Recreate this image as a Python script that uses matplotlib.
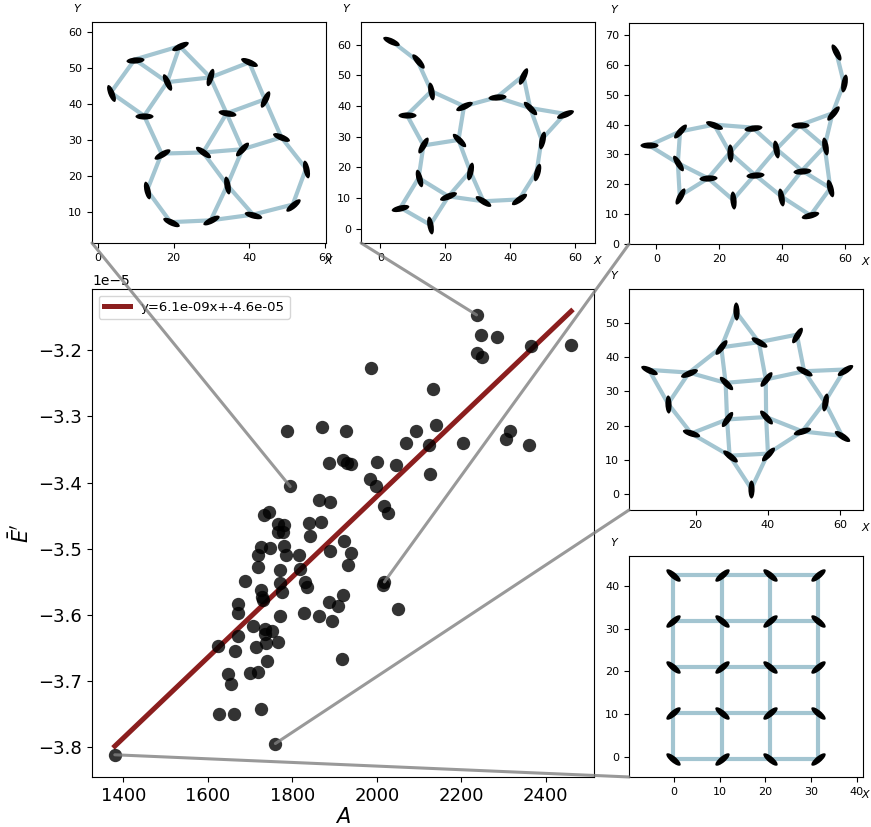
import numpy as np
import matplotlib
matplotlib.use('Agg')
import matplotlib.pyplot as plt
from matplotlib.markers import MarkerStyle
from matplotlib.patches import ConnectionPatch
from matplotlib.ticker import MultipleLocator
from matplotlib.transforms import Affine2D

# sample area A and mean energy E' (in units of 1e-5)
area = [2236, 2246, 2285, 2237, 2248, 2364, 2460, 1986, 2132, 1871,
        1928, 1787, 2092, 2139, 2068, 2124, 2203, 2316, 2305, 2359,
        1888, 1921, 1930, 1940, 2000, 2045, 2127, 1983, 1997, 1795,
        1863, 1889, 1732, 1746, 2018, 2026, 1766, 1780, 1766, 1777,
        1839, 1868, 1842, 1923, 1938, 1890, 1931, 1725, 1747, 1718,
        1781, 1785, 1817, 1718, 1772, 1819, 1689, 1831, 1834, 1771,
        1776, 1725, 1728, 1730, 2018, 2014, 1920, 1886, 1909, 1671,
        1672, 1827, 1863, 1895, 2050, 1772, 1706, 1736, 1753, 1735,
        1671, 1766, 1713, 1737, 1625, 1665, 1739, 1918, 1648, 1655,
        1699, 1718, 1626, 1663, 1727, 1760, 1380]
energy = [-3.147, -3.178, -3.181, -3.204, -3.210, -3.194, -3.192, -3.227, -3.259, -3.316,
          -3.322, -3.323, -3.322, -3.313, -3.340, -3.343, -3.340, -3.322, -3.334, -3.344,
          -3.370, -3.366, -3.371, -3.372, -3.369, -3.374, -3.387, -3.395, -3.406, -3.406,
          -3.427, -3.429, -3.449, -3.445, -3.435, -3.446, -3.462, -3.464, -3.474, -3.474,
          -3.461, -3.459, -3.480, -3.489, -3.506, -3.503, -3.525, -3.497, -3.499, -3.509,
          -3.496, -3.510, -3.509, -3.527, -3.532, -3.531, -3.548, -3.550, -3.558, -3.552,
          -3.565, -3.562, -3.573, -3.578, -3.550, -3.555, -3.570, -3.580, -3.586, -3.583,
          -3.597, -3.597, -3.601, -3.609, -3.591, -3.602, -3.616, -3.621, -3.624, -3.629,
          -3.632, -3.641, -3.649, -3.642, -3.647, -3.654, -3.669, -3.667, -3.689, -3.704,
          -3.688, -3.686, -3.749, -3.749, -3.742, -3.794, -3.811]

# linear fit of energy against area
slope = 6.08e-9
intercept = -4.637e-5

# samples whose structure is drawn in the insets
linked = [29, 0, 64, 95, 96]

# structure graphs: node x, node y, ellipse angle (deg), edges
g1_x = [9.7, 21.6, 3.4, 18.3, 29.7, 40.0, 44.1, 12.2, 34.0, 16.8,
        27.8, 38.2, 48.5, 55.0, 13.0, 34.2, 19.2, 29.8, 41.0, 51.5]
g1_y = [52.4, 56.1, 43.2, 46.1, 47.4, 51.6, 41.3, 36.7, 37.4, 26.2,
        26.5, 27.4, 30.7, 22.0, 16.0, 17.4, 7.1, 7.6, 9.2, 12.0]
g1_ang = [5, 25, 112, 115, 73, -23, 64, 0, -10, 30,
          -35, 47, -22, 102, 103, 100, -25, 27, -15, 40]
g1_edges = [(0, 1), (0, 2), (0, 3), (1, 3), (1, 4), (3, 4), (2, 7), (3, 7), (4, 5), (4, 8),
            (5, 6), (6, 8), (6, 12), (7, 9), (8, 10), (8, 11), (9, 10), (10, 11), (11, 12),
            (12, 13), (9, 14), (10, 15), (15, 18), (11, 15), (15, 17), (14, 16), (16, 17),
            (17, 18), (18, 19), (19, 13)]

g2_x = [3.3, 11.5, 15.7, 8.2, 25.8, 35.9, 44.1, 46.2, 56.9, 49.7,
        13.3, 24.1, 27.7, 11.8, 21.0, 48.2, 31.8, 42.8, 6.2, 15.4]
g2_y = [61.3, 54.6, 44.8, 37.0, 39.9, 42.8, 49.9, 39.3, 37.4, 29.0,
        27.1, 28.9, 18.7, 16.5, 10.5, 18.6, 8.9, 9.5, 6.8, 1.2]
g2_ang = [-25, -50, 100, 0, 25, 5, 65, -45, 22, 78,
          60, -45, 78, 105, 22, 75, -32, 35, 13, 100]
g2_edges = [(0, 1), (1, 2), (2, 3), (2, 4), (3, 10), (10, 11), (11, 4), (4, 5), (5, 6),
            (6, 7), (5, 7), (7, 8), (7, 9), (8, 9), (9, 15), (15, 17), (17, 16), (11, 12),
            (12, 16), (12, 14), (14, 16), (13, 14), (10, 13), (13, 18), (18, 19), (19, 14)]

g3_x = [57.1, 59.5, 55.9, 45.5, 53.4, 46.2, 55.2, 48.9, 39.7, 38.1,
        31.2, 30.5, 23.3, 24.3, 18.3, 16.4, 7.5, -2.3, 6.8, 7.4]
g3_y = [64.2, 53.9, 43.8, 39.8, 32.7, 24.6, 18.7, 9.6, 15.9, 31.8,
        23.2, 39.0, 30.6, 14.8, 40.0, 22.0, 37.7, 33.0, 27.1, 16.1]
g3_ang = [118, 80, 50, 0, 100, 5, 105, 15, 100, 100,
          5, 8, 92, 95, -22, 3, 48, 0, 122, 62]
g3_edges = [(0, 1), (1, 2), (2, 3), (2, 4), (3, 4), (3, 9), (4, 5), (4, 6), (5, 9), (5, 8),
            (5, 6), (6, 7), (8, 7), (9, 10), (9, 11), (8, 10), (10, 12), (10, 13), (11, 12),
            (11, 14), (12, 14), (12, 15), (13, 15), (14, 16), (15, 18), (15, 19), (16, 17),
            (16, 18), (17, 18), (18, 19)]

g4_x = [31.1, 48.0, 37.5, 27.1, 7.1, 18.2, 28.3, 39.4, 50.0, 61.2,
        12.4, 55.7, 28.7, 39.5, 18.8, 49.5, 60.5, 29.4, 40.0, 35.4]
g4_y = [53.4, 46.6, 44.4, 42.9, 36.3, 35.5, 32.5, 33.5, 35.9, 36.4,
        26.4, 26.9, 21.8, 22.5, 17.7, 18.3, 17.0, 11.2, 11.8, 1.5]
g4_ang = [92, 58, -30, 52, -25, 22, -45, 52, -28, 33,
          92, 80, 55, -48, -18, 17, -33, -38, 47, 90]
g4_edges = [(0, 3), (0, 2), (2, 3), (2, 1), (1, 8), (2, 7), (3, 6), (3, 5), (4, 5), (4, 10),
            (5, 10), (5, 6), (6, 7), (7, 8), (8, 9), (8, 11), (11, 16), (9, 11), (11, 15),
            (15, 16), (6, 12), (7, 13), (12, 13), (13, 15), (12, 14), (10, 14), (12, 17),
            (13, 18), (17, 18), (14, 17), (15, 18), (17, 19), (18, 19)]

g5_x = [-0.2, 10.4, 21.1, 31.6, -0.2, 10.4, 21.1, 31.6, -0.2, 10.4,
        21.1, 31.6, -0.2, 10.4, 21.1, 31.6, -0.2, 10.4, 21.1, 31.6]
g5_y = [-0.4, -0.4, -0.4, -0.4, 10.3, 10.3, 10.3, 10.3, 21.0, 21.0,
        21.0, 21.0, 31.7, 31.7, 31.7, 31.7, 42.4, 42.4, 42.4, 42.4]
g5_ang = [-40, 40, -40, 40, 40, -40, 40, -40, -40, 40,
          -40, 40, 40, -40, 40, -40, -40, 40, -40, 40]
g5_edges = [(0, 1), (1, 2), (2, 3), (4, 5), (5, 6), (6, 7), (8, 9), (9, 10), (10, 11),
            (12, 13), (13, 14), (14, 15), (16, 17), (17, 18), (18, 19),
            (0, 4), (4, 8), (8, 12), (12, 16), (1, 5), (5, 9), (9, 13), (13, 17),
            (2, 6), (6, 10), (10, 14), (14, 18), (3, 7), (7, 11), (11, 15), (15, 19)]

graphs = [(g1_x, g1_y, g1_ang, g1_edges), (g2_x, g2_y, g2_ang, g2_edges),
          (g3_x, g3_y, g3_ang, g3_edges), (g4_x, g4_y, g4_ang, g4_edges),
          (g5_x, g5_y, g5_ang, g5_edges)]

# inset placement (figure fraction), view limits and x tick spacing
inset_pos = [[0.1056, 0.7062], [0.4145, 0.7062], [0.7222, 0.7050],
             [0.7222, 0.3833], [0.7222, 0.0605]]
inset_w, inset_h = 0.2687, 0.267
inset_xlim = [(-1.6, 60.3), (-5.95, 66.2), (-8.7, 65.6), (1.6, 66.3), (-9.85, 41.4)]
inset_ylim = [(1.3, 62.8), (-4.7, 67.3), (0, 74), (-4.7, 59.9), (-4.6, 46.9)]
inset_xstep = [20, 20, 20, 20, 10]

x = np.array(area, dtype=float)
y = np.array(energy) * 1e-5

fig = plt.figure(figsize=(8.71, 8.27), dpi=100)
ax = fig.add_axes([0.1056, 0.0605, 0.5764, 0.5901])

x_fit = np.array([x.min(), x.max()])
ax.plot(x_fit, slope * x_fit + intercept, color='#8b1e1e', lw=3.6, zorder=1,
        label=f'y={slope:.1e}x+{intercept:.1e}')
ax.scatter(x, y, s=92, color='black', alpha=0.8, linewidths=0, zorder=2)
ax.tick_params(labelsize=13)
ax.set_xlabel('$A$', fontsize=15, labelpad=2)
ax.set_ylabel("$\\bar{E}'$", fontsize=15)
ax.legend(loc='upper left', fontsize=9.5)

insets = []
for k, (gx, gy, gang, gedges) in enumerate(graphs):
    pos = inset_pos[k]
    iax = fig.add_axes([pos[0], pos[1], inset_w, inset_h])
    for i, j in gedges:
        iax.plot([gx[i], gx[j]], [gy[i], gy[j]], color='#a3c5d1', lw=3,
                 solid_capstyle='round', zorder=1)
    for xi, yi, a in zip(gx, gy, gang):
        m = MarkerStyle('o', transform=Affine2D().scale(1, 0.34).rotate_deg(a))
        iax.plot([xi], [yi], marker=m, ms=13, color='black', mew=0,
                 ls='none', zorder=2)
    iax.set_xlim(*inset_xlim[k])
    iax.set_ylim(*inset_ylim[k])
    iax.xaxis.set_major_locator(MultipleLocator(inset_xstep[k]))
    iax.yaxis.set_major_locator(MultipleLocator(10))
    iax.tick_params(labelsize=8)
    iax.set_xlabel('$X$', fontsize=8)
    iax.xaxis.set_label_coords(1.013, -0.05)
    iax.set_ylabel('$Y$', fontsize=8, rotation=0)
    iax.yaxis.set_label_coords(-0.06, 1.036)
    insets.append(iax)

# link each inset to its sample in the scatter
for iax, idx in zip(insets, linked):
    con = ConnectionPatch(xyA=(x[idx], y[idx]), coordsA=ax.transData,
                          xyB=(0, 0), coordsB=iax.transAxes,
                          color='gray', lw=2.2, alpha=0.8)
    fig.add_artist(con)

fig.savefig('out.png', dpi=100)
